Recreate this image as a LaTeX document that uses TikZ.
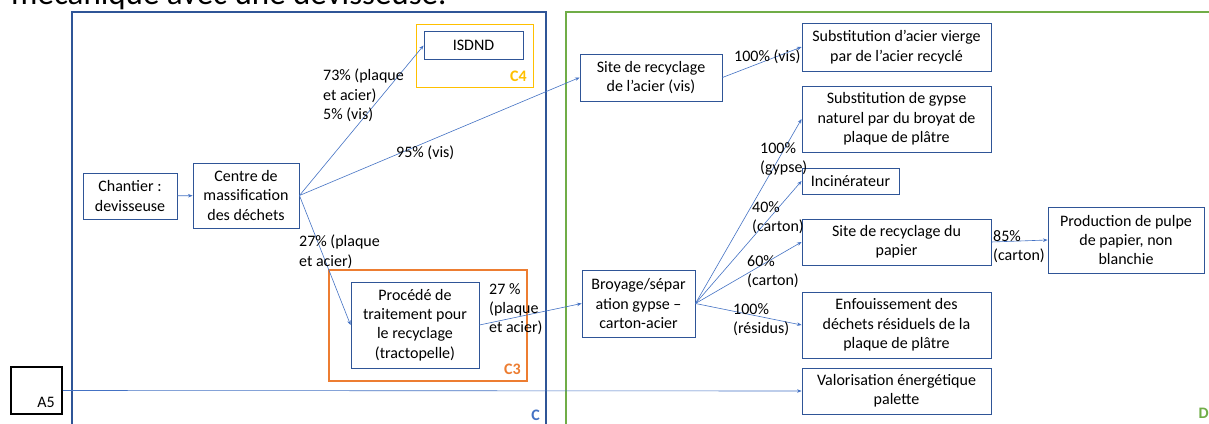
\documentclass[tikz,border=0pt]{standalone}
\usepackage{fontspec}
\setmainfont{Carlito}
\usetikzlibrary{arrows.meta}

\definecolor{boxblue}{HTML}{2F5597}
\definecolor{linkblue}{HTML}{4472C4}
\definecolor{greenD}{HTML}{70AD47}
\definecolor{goldC}{HTML}{FFC000}
\definecolor{orangeC}{HTML}{ED7D31}

\tikzset{
  box/.style={draw=boxblue, line width=0.9pt, align=center, inner sep=2pt},
  flow/.style={-{Stealth[length=4.5pt,width=3.5pt]}, draw=linkblue, line width=0.6pt},
  pct/.style={anchor=north west, align=left, inner sep=0pt},
  tag/.style={anchor=east, inner sep=0pt, font=\bfseries\fontsize{16}{19}\selectfont},
}

\begin{document}
\begin{tikzpicture}[x=1pt, y=-1pt, font=\fontsize{16}{19.3}\selectfont]

            \fill[white] (0,0) rectangle (1209,423);
            \useasboundingbox (0,0) rectangle (1209,423);

            % Title (cut off at the top)
            \node[anchor=base west, inner sep=0pt, font=\fontsize{33}{40}\selectfont] (title) at (11,5) {mécanique avec une devisseuse.};

            % Frames
            \draw[boxblue, line width=1.8pt] (72,12) rectangle (546,430);
            \draw[greenD, line width=1.8pt] (566,12) rectangle (1216,430);
            \draw[goldC, line width=1pt] (416,24) rectangle (533,87);
            \draw[orangeC, line width=1.5pt] (329,270) rectangle (527,381);
            \node[tag, text=linkblue] (labC) at (540,415) {C};
            \node[tag, text=greenD] (labD) at (1209,413) {D};
            \node[tag, text=goldC] (labC4) at (527,76) {C4};
            \node[tag, text=orangeC] (labC3) at (521,369) {C3};

            % Left part (C)
            \node[box, minimum width=94pt, minimum height=46pt] (chantier) at (130,196) {Chantier :\\devisseuse};
            \node[box, minimum width=106pt, minimum height=65pt] (centre) at (246,195.5) {Centre de\\massification\\des déchets};
            \node[box, minimum width=99pt, minimum height=28pt] (isdnd) at (473.5,45.5) {ISDND};
            \node[box, minimum width=128pt, minimum height=86pt] (procede) at (415,325) {Procédé de\\traitement pour\\le recyclage\\(tractopelle)};
            \node[draw=black, line width=1.5pt, minimum width=51pt, minimum height=47pt] (A5) at (36.5,390.5) {};
            \node[anchor=east, inner sep=0pt] (labA5) at (55,402) {A5};

            % Right part (D)
            \node[box, minimum width=142pt, minimum height=47pt] (siteAcier) at (651,77.5) {Site de recyclage\\de l’acier (vis)};
            \node[box, minimum width=113pt, minimum height=67pt] (broyage) at (638.5,303.5) {Broyage/sépar\\ation gypse –\\carton-acier};
            \node[box, minimum width=189pt, minimum height=48pt] (substAcier) at (896.5,47) {Substitution d’acier vierge\\par de l’acier recyclé};
            \node[box, minimum width=189pt, minimum height=66pt] (substGypse) at (896.5,119) {Substitution de gypse\\naturel par du broyat de\\plaque de plâtre};
            \node[box, minimum width=97pt, minimum height=26pt] (incin) at (850.5,181) {Incinérateur};
            \node[box, minimum width=189pt, minimum height=46pt] (sitePapier) at (896.5,242) {Site de recyclage du\\papier};
            \node[box, minimum width=156pt, minimum height=66pt] (pulpe) at (1126,240) {Production de pulpe\\de papier, non\\blanchie};
            \node[box, minimum width=189pt, minimum height=66pt] (enfouis) at (896.5,325) {Enfouissement des\\déchets résiduels de la\\plaque de plâtre};
            \node[box, minimum width=189pt, minimum height=46pt] (valo) at (896.5,391) {Valorisation énergétique\\palette};

            % Arrows
            \draw[flow] (chantier) -- (centre);
            \draw[flow] (centre.east) -- (isdnd.west);
            \draw[flow] (centre.east) -- (siteAcier.west);
            \draw[flow] (centre.east) -- (procede.west);
            \draw[flow] (procede.east) -- (broyage.west);
            \draw[flow] (siteAcier.east) -- (substAcier.west);
            \draw[flow] (broyage.east) -- (substGypse.west);
            \draw[flow] (broyage.east) -- (incin.west);
            \draw[flow] (broyage.east) -- (sitePapier.west);
            \draw[flow] (broyage.east) -- (enfouis.west);
            \draw[flow] (sitePapier.east) -- (pulpe.west);
            \draw[flow] (A5.east) -- (valo.west);

            % Percentages
            \node[pct] (p73) at (323,69) {73\% (plaque\\et acier)\\5\% (vis)};
            \node[pct] (p95) at (396,146) {95\% (vis)};
            \node[pct] (p27a) at (299,235) {27\% (plaque\\et acier)};
            \node[pct] (p27b) at (489,283) {27 \%\\(plaque\\et acier)};
            \node[pct] (p100vis) at (734,50) {100\% (vis)};
            \node[pct] (p100g) at (760,142) {100\%\\(gypse)};
            \node[pct] (p40) at (752,201) {40\%\\(carton)};
            \node[pct] (p60) at (747,255) {60\%\\(carton)};
            \node[pct] (p100r) at (733,303) {100\%\\(résidus)};
            \node[pct] (p85) at (993,230) {85\%\\(carton)};

            \end{tikzpicture}
\end{document}
